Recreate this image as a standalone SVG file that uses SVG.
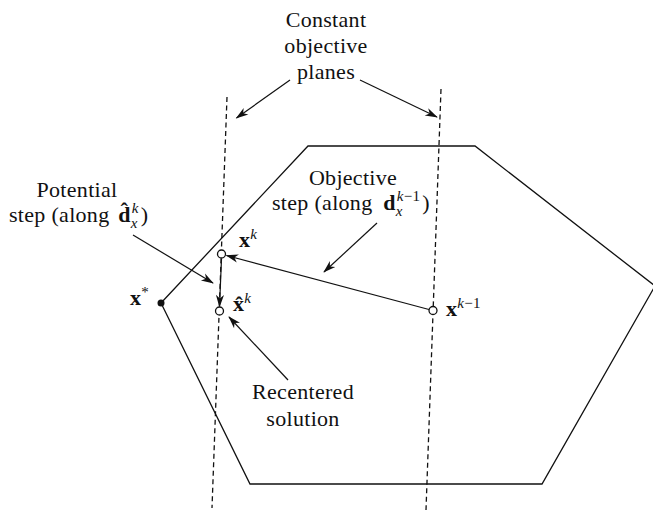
<svg xmlns="http://www.w3.org/2000/svg" width="653" height="516" viewBox="0 0 653 516">
<defs>
<style>
.ln{fill:none;stroke:#111;stroke-width:1.3}
.dash{fill:none;stroke:#111;stroke-width:1.3;stroke-dasharray:5 3.5}
.ptr{fill:none;stroke:#111;stroke-width:1.2;marker-end:url(#ah)}
text{font-family:"Liberation Serif","Times New Roman",Tinos,"Nimbus Roman","Noto Serif","DejaVu Serif",serif;font-size:22px;fill:#111;letter-spacing:0.3px}
.b{font-weight:bold}
.n{font-weight:normal}
.i{font-style:italic}
.s{font-size:15px}
.pt{fill:#fff;stroke:#111;stroke-width:1.3}
</style>
<marker id="ah" viewBox="0 0 14 10" refX="13" refY="5" markerWidth="14" markerHeight="9" markerUnits="userSpaceOnUse" orient="auto">
<path d="M0,0.5 L14,5 L0,9.5 L4,5 z" fill="#111"/>
</marker>
</defs>
<rect width="653" height="516" fill="#fff"/>
<g id="region">
<polyline class="ln" points="161,303 308,146 475,146 655,286 542,484 250,484 161,303"/>
</g>
<g id="planes">
<line class="dash" x1="227" y1="97" x2="212" y2="508"/>
<line class="dash" x1="441" y1="89" x2="426" y2="510"/>
</g>
<g id="connectors">
<line class="ptr" x1="429" y1="309.5" x2="226.5" y2="255.5"/>
<line class="ptr" x1="221.5" y1="258.5" x2="219.5" y2="306.5"/>
<line class="ptr" x1="290" y1="80" x2="236.5" y2="118"/>
<line class="ptr" x1="360" y1="80" x2="437" y2="117"/>
<line class="ptr" x1="377" y1="223" x2="324" y2="272"/>
<line class="ptr" x1="133" y1="235" x2="213" y2="283"/>
<line class="ptr" x1="288" y1="380" x2="229" y2="317"/>
</g>
<g id="xstar">
<circle cx="161" cy="303" r="3.5" fill="#111"/>
<text class="b" x="130" y="305">x<tspan class="n s" dy="-8">*</tspan></text>
</g>
<g id="xk">
<circle class="pt" cx="221.5" cy="254" r="4"/>
<text class="b" x="239" y="247">x<tspan class="n i s" dy="-8">k</tspan></text>
</g>
<g id="xhatk">
<circle class="pt" cx="219.5" cy="311" r="4"/>
<text class="b" x="233" y="311">x̂<tspan class="n i s" dy="-8">k</tspan></text>
</g>
<g id="xkm1">
<circle class="pt" cx="433" cy="310.5" r="4"/>
<text class="b" x="446" y="316">x<tspan class="n i s" dy="-8">k</tspan><tspan class="n s">−1</tspan></text>
</g>
<g id="label-planes">
<text x="326" y="27" text-anchor="middle">Constant</text>
<text x="326" y="53" text-anchor="middle">objective</text>
<text x="326" y="79" text-anchor="middle">planes</text>
</g>
<g id="label-potential">
<text x="77" y="197" text-anchor="middle">Potential</text>
<text x="9" y="222">step (along <tspan class="b" dx="3">d̂</tspan><tspan class="i s" dy="6">x</tspan><tspan class="i s" dx="-6" dy="-15">k</tspan><tspan dx="2" dy="9">)</tspan></text>
</g>
<g id="label-objective">
<text x="353" y="185" text-anchor="middle">Objective</text>
<text x="272" y="210">step (along <tspan class="b" dx="5">d</tspan><tspan class="i s" dy="6">x</tspan><tspan class="i s" dx="-6" dy="-15">k</tspan><tspan class="s">−1</tspan><tspan dx="2" dy="9">)</tspan></text>
</g>
<g id="label-recentered">
<text x="303" y="399" text-anchor="middle">Recentered</text>
<text x="303" y="426" text-anchor="middle">solution</text>
</g>
</svg>
